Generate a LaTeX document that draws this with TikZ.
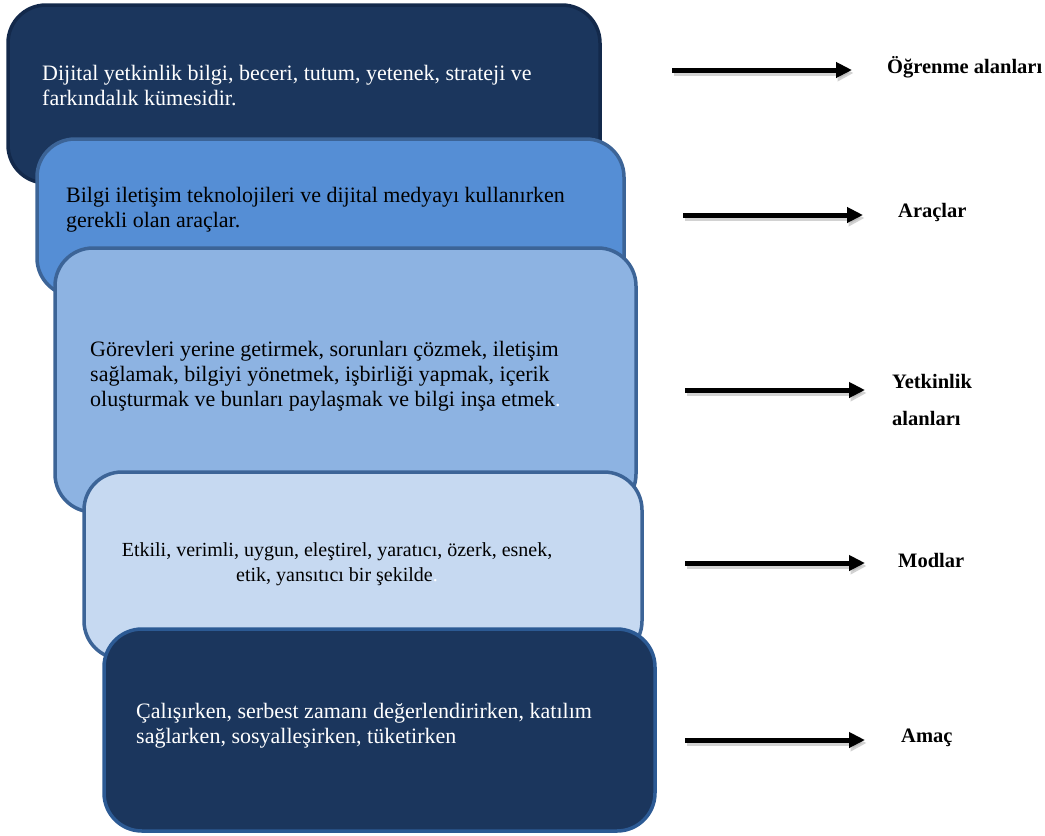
\documentclass[tikz,border=0pt]{standalone}
\usepackage{fontspec}
\setmainfont{Liberation Serif}
\usetikzlibrary{arrows.meta}
\definecolor{navy}{HTML}{1B365D}
\definecolor{navyedge}{HTML}{13294B}
\definecolor{midblue}{HTML}{558ED5}
\definecolor{lightblue}{HTML}{8DB3E2}
\definecolor{paleblue}{HTML}{C6D9F1}
\definecolor{blueedge}{HTML}{3C6497}
\definecolor{navyedge2}{HTML}{2C5A94}
\tikzset{
  card/.style={rounded corners=38pt, line width=3.5pt},
  cardtext/.style={inner sep=0pt, anchor=north west, align=left, font=\fontsize{22}{25}\selectfont},
  lbl/.style={inner sep=0pt, anchor=west, font=\bfseries\fontsize{20.5}{37}\selectfont, align=left},
  arr/.style={line width=5pt, -{Triangle[length=16pt,width=15pt]}},
  arrshadow/.style={line width=6pt, black!35, opacity=0.5, -{Triangle[length=16pt,width=16pt]}}
}
\begin{document}
\begin{tikzpicture}[x=1pt,y=-1pt]
\useasboundingbox (0,0) rectangle (1045,836);
% cards
\draw[card, fill=navy, draw=navyedge] (8,5) rectangle (600,183);
\draw[card, fill=midblue, draw=blueedge] (37,139) rectangle (624,296);
\draw[card, fill=lightblue, draw=blueedge] (55,248) rectangle (636,512);
\draw[card, fill=paleblue, draw=blueedge] (84,472) rectangle (642,659);
\draw[card, fill=navy, draw=navyedge2] (104,629) rectangle (655,831);
% texts
\node[cardtext, text=white] (t1) at (42,65) {Dijital yetkinlik bilgi, beceri, tutum, yetenek, strateji ve\\farkındalık kümesidir.};
\node[cardtext, text=black] (t2) at (66,187) {Bilgi iletişim teknolojileri ve dijital medyayı kullanırken\\gerekli olan araçlar.};
\node[cardtext, text=black] (t3) at (90,341) {Görevleri yerine getirmek, sorunları çözmek, iletişim\\sağlamak, bilgiyi yönetmek, işbirliği yapmak, içerik\\oluşturmak ve bunları paylaşmak ve bilgi inşa etmek\textcolor{white}{.}};
\node[cardtext, anchor=north, align=center, text=black, font=\fontsize{20}{25}\selectfont] (t4) at (337,542) {Etkili, verimli, uygun, eleştirel, yaratıcı, özerk, esnek,\\etik, yansıtıcı bir şekilde\textcolor{white}{.}};
\node[cardtext, text=white] (t5) at (136,703) {Çalışırken, serbest zamanı değerlendirirken, katılım\\sağlarken, sosyalleşirken, tüketirken};
% labels
\node[lbl] (l1) at (887,67) {Öğrenme alanları};
\node[lbl] (l2) at (898,212) {Araçlar};
\node[lbl, anchor=north west] (l3) at (892,374) {Yetkinlik\\alanları};
\node[lbl] (l4) at (898,560) {Modlar};
\node[lbl] (l5) at (901,738) {Amaç};
% arrow anchors
\coordinate (a1s) at (672,70); \coordinate (a1e) at (852,70);
\coordinate (a2s) at (683,215); \coordinate (a2e) at (863,215);
\coordinate (a3s) at (685,390); \coordinate (a3e) at (865,390);
\coordinate (a4s) at (685,563); \coordinate (a4e) at (865,563);
\coordinate (a5s) at (685,740); \coordinate (a5e) at (865,740);
\foreach \i in {1,...,5}{
  \draw[arrshadow] ([shift={(1.5,3)}]a\i s) -- ([shift={(1.5,3)}]a\i e);
  \draw[arr] (a\i s) -- (a\i e);
}
\end{tikzpicture}
\end{document}
